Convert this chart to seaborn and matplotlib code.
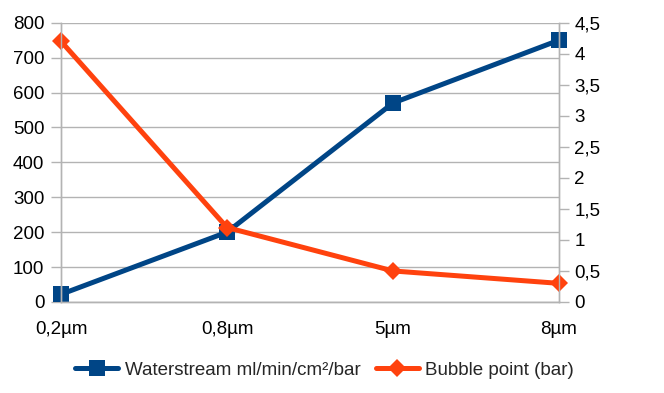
import matplotlib
matplotlib.use("Agg")
import matplotlib.pyplot as plt
import seaborn as sns
import pandas as pd
from matplotlib.ticker import MultipleLocator, FuncFormatter

# data
sizes = ["0,2µm", "0,8µm", "5µm", "8µm"]
waterstream = [22, 200, 570, 750]
bubble_point = [4.2, 1.2, 0.5, 0.3]

df = pd.DataFrame({"size": sizes, "water": waterstream, "bubble": bubble_point})

sns.set_style("white")
plt.rcParams["font.family"] = ["Liberation Sans", "DejaVu Sans"]

blue = "#004586"
orange = "#ff420e"
grid = "#b3b3b3"

fig = plt.figure(figsize=(6.64, 3.93), dpi=100)
ax = fig.add_axes([0.0919, 0.2316, 0.75, 0.7106])
ax2 = ax.twinx()

sns.lineplot(data=df, x="size", y="water", ax=ax, color=blue, lw=3.6,
             marker="s", markersize=12, markeredgewidth=0, sort=False,
             label="Waterstream ml/min/cm²/bar", legend=False, clip_on=False)
sns.lineplot(data=df, x="size", y="bubble", ax=ax2, color=orange, lw=3.6,
             marker="D", markersize=9, markeredgewidth=0, sort=False,
             label="Bubble point (bar)", legend=False, clip_on=False)

ax.set_xlim(0, len(sizes) - 1)
ax.set_ylim(0, 800)
ax2.set_ylim(0, 4.5)
ax.yaxis.set_major_locator(MultipleLocator(100))
ax2.yaxis.set_major_locator(MultipleLocator(0.5))
ax2.yaxis.set_major_formatter(FuncFormatter(lambda v, p: f"{v:g}".replace(".", ",")))

ax.set_xlabel("")
ax.set_ylabel("")
ax2.set_ylabel("")
ax.grid(axis="y", color=grid, lw=1)
ax.set_axisbelow(True)

for a in (ax, ax2):
    a.spines["top"].set_visible(False)
    for s in ("left", "right", "bottom"):
        a.spines[s].set_color(grid)
        a.spines[s].set_linewidth(1)
    a.tick_params(labelsize=13.5, colors=grid, labelcolor="black", length=7, width=1, pad=4)
ax.tick_params(axis="y", pad=5)
ax.tick_params(axis="x", pad=7)

h1, l1 = ax.get_legend_handles_labels()
h2, l2 = ax2.get_legend_handles_labels()
fig.legend(h1 + h2, l1 + l2, loc="center", bbox_to_anchor=(0.489, 0.058), ncol=2,
           frameon=False, fontsize=13.5, handlelength=2.3, columnspacing=0.8,
           handletextpad=0.35)

fig.savefig("out.png", dpi=100)
